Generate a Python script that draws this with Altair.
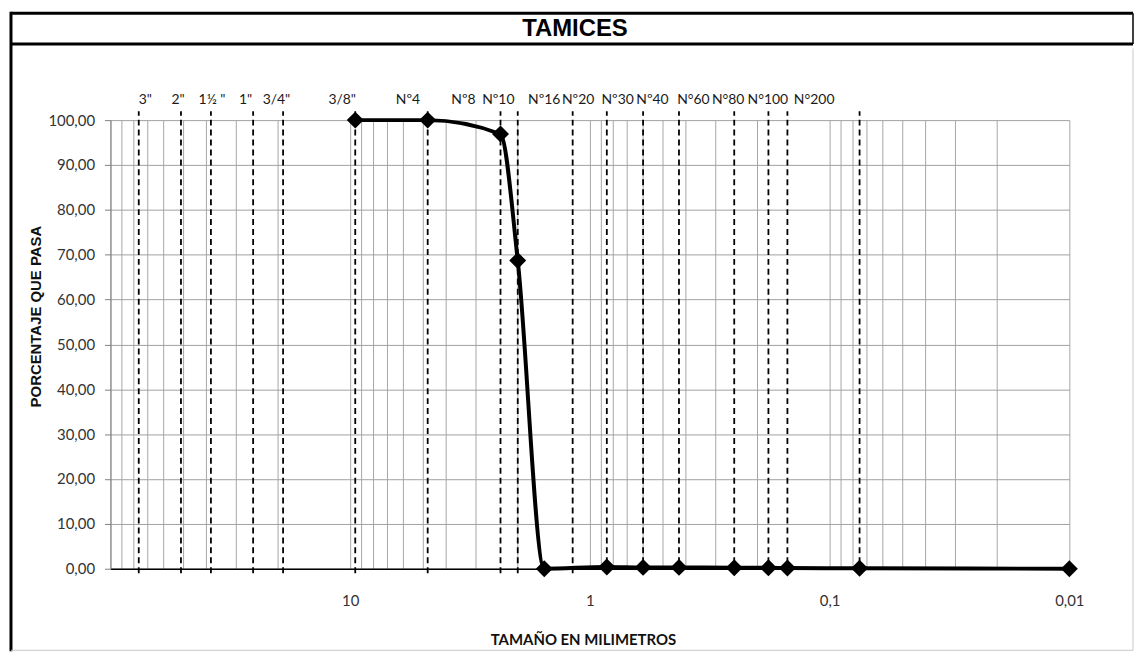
import altair as alt
import pandas as pd

# ---- Curva granulométrica (tamaño en mm, porcentaje que pasa) ----
sizes_mm = [9.525, 4.75, 2.36, 2.0, 1.55, 0.85, 0.6, 0.425, 0.25, 0.18, 0.15, 0.075, 0.01]
passing = [100.0, 100.0, 96.9, 68.7, 0.0, 0.4, 0.3, 0.3, 0.2, 0.2, 0.15, 0.1, 0.0]

# ---- Tamices (líneas discontinuas) ----
sieve_mm = [76.2, 50.8, 38.1, 25.4, 19.05, 9.525, 4.75, 2.36, 2.0, 1.18, 0.85, 0.6,
            0.425, 0.25, 0.18, 0.15, 0.075]
sieve_names = ['3"', '2"', '1½ "', '1"', '3/4"', '3/8"', 'Nº4', 'Nº8', 'Nº10', 'Nº16',
               'Nº20', 'Nº30', 'Nº40', 'N°60', 'N°80', 'N°100', 'N°200']
label_mm = [71.6, 52.2, 37.7, 27.3, 20.3, 10.8, 5.74, 3.37, 2.41, 1.55, 1.12, 0.766,
            0.548, 0.370, 0.265, 0.181, 0.116]

x_label_values = [10, 1, 0.1, 0.01]
y_ticks = [0, 10, 20, 30, 40, 50, 60, 70, 80, 90, 100]
x_grid = [round(k * 10 ** e, 6) for e in range(-2, 2) for k in range(1, 10)] + [100]

curve = pd.DataFrame({"mm": sizes_mm, "pct": passing, "ord": list(range(len(sizes_mm)))})
sieves = pd.DataFrame({"mm": sieve_mm, "pct": [-1.0] * len(sieve_mm), "hi": [102.0] * len(sieve_mm)})
labels = pd.DataFrame({"mm": label_mm, "name": sieve_names})
one = pd.DataFrame({"k": [0]})

xscale = alt.Scale(type="log", domain=[0.01, 100], reverse=True, nice=False)
yscale = alt.Scale(domain=[0, 100], nice=False)

dec_list = "[" + ",".join(str(v) for v in x_label_values) + "]"

x_axis = alt.Axis(
    values=x_grid,
    grid=True, gridColor="#a6a6a6", gridWidth=1,
    ticks=False, tickSize=0,
    domain=True, domainColor="#000000", domainWidth=1.5,
    labelExpr=f"indexof({dec_list}, datum.value) >= 0 ? replace(format(datum.value, '~g'), '.', ',') : ''",
    labelOverlap=False, labelFlush=False,
    labelFont="Lato", labelFontSize=15, labelColor="#333333",
    labelBaseline="middle", labelPadding=32,
    title="TAMAÑO EN MILIMETROS", titleFont="Lato", titleFontSize=15,
    titleFontWeight="bold", titleColor="#111111",
    titleX=475, titleY=71, titleAlign="center", titleBaseline="middle",
)
y_axis = alt.Axis(
    values=y_ticks,
    grid=True, gridColor="#a0a0a0", gridWidth=1,
    ticks=True, tickSize=6, tickColor="#808080",
    domain=True, domainColor="#808080",
    labelExpr="replace(format(datum.value, '.2f'), '.', ',')",
    labelFont="Lato", labelFontSize=15, labelColor="#333333", labelPadding=10,
    title="PORCENTAJE QUE PASA", titleFont="Liberation Sans", titleFontSize=15,
    titleFontWeight="bold", titleColor="#111111",
    titleAngle=270, titleX=-75, titleY=197, titleAlign="center", titleBaseline="middle",
)

X = alt.X("mm:Q", scale=xscale, axis=x_axis, title="TAMAÑO EN MILIMETROS")
Y = alt.Y("pct:Q", scale=yscale, axis=y_axis, title="PORCENTAJE QUE PASA")

line = alt.Chart(curve).mark_line(color="black", strokeWidth=4, interpolate="monotone").encode(
    x=X, y=Y, order="ord:Q",
)
points = alt.Chart(curve).mark_point(shape="diamond", filled=True, size=290, color="black", opacity=1).encode(
    x=X, y=Y,
)
dashes = alt.Chart(sieves).mark_rule(color="black", strokeWidth=1.8, strokeDash=[6, 4]).encode(
    x=X, y=Y, y2="hi:Q",
)
sieve_text = alt.Chart(labels).mark_text(font="Lato", fontSize=14, color="#1a1a1a", baseline="middle").encode(
    x=X,
    y=alt.value(-20),
    text="name:N",
)

# ---- marco y título ----
left_bar = alt.Chart(one).mark_rule(color="black", strokeWidth=3).encode(
    x=alt.value(-100), y=alt.value(-109), y2=alt.value(534))
title_top = alt.Chart(one).mark_rule(color="black", strokeWidth=3).encode(
    x=alt.value(-100), x2=alt.value(1028), y=alt.value(-107.5))
title_bot = alt.Chart(one).mark_rule(color="black", strokeWidth=3).encode(
    x=alt.value(-100), x2=alt.value(1028), y=alt.value(-76.5))
title_right = alt.Chart(one).mark_rule(color="black", strokeWidth=1.5).encode(
    x=alt.value(1028), y=alt.value(-107.5), y2=alt.value(-76.5))
frame_right = alt.Chart(one).mark_rule(color="#c8c8c8", strokeWidth=1).encode(
    x=alt.value(1028), y=alt.value(-72), y2=alt.value(533))
frame_bot = alt.Chart(one).mark_rule(color="#c8c8c8", strokeWidth=1).encode(
    x=alt.value(-100), x2=alt.value(1028), y=alt.value(533))
title_text = alt.Chart(one).mark_text(
    text="TAMICES", font="Liberation Sans", fontSize=24, fontWeight="bold", color="black",
    baseline="middle", align="center").encode(x=alt.value(467), y=alt.value(-92))

chart = alt.layer(
    line, dashes, points, sieve_text,
    left_bar, title_top, title_bot, title_right, frame_right, frame_bot, title_text,
).properties(
    width=964, height=451,
    autosize=alt.AutoSizeParams(type="none"),
    padding={"left": 103, "top": 111, "right": 65, "bottom": 83},
    background="white",
).configure_view(strokeWidth=0)

chart.save("out.html", embed_options={"renderer": "svg", "actions": False})
